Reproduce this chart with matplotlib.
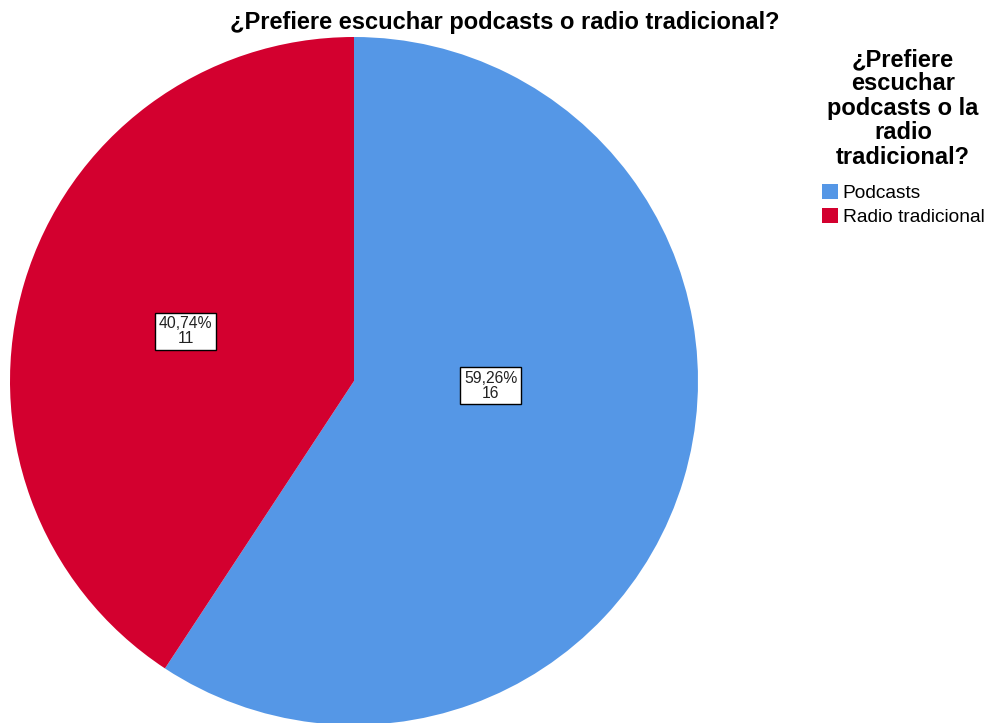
import matplotlib.pyplot as plt

plt.rcParams['font.family'] = ['Liberation Sans', 'DejaVu Sans']

# data
categories = ['Podcasts', 'Radio tradicional']
counts = [16, 11]
colors = ['#5597E6', '#D3002F']
# label anchor spots (fraction of the radius, in pie units)
label_pos = [(0.397, -0.014), (-0.49, 0.145)]

total = sum(counts)

fig = plt.figure(figsize=(9.92, 7.23), dpi=100)
R = 344
cx, cy = 354, 381
ax = fig.add_axes([(cx - R) / 992, (723 - cy - R) / 723, 2 * R / 992, 2 * R / 723])

wedges, _ = ax.pie(counts, colors=colors, startangle=90, counterclock=False,
                   radius=1.0, wedgeprops=dict(linewidth=0))
ax.set_xlim(-1, 1)
ax.set_ylim(-1, 1)
ax.set_aspect('equal')
ax.axis('off')

for c, (x, y) in zip(counts, label_pos):
    pct = f'{100 * c / total:.2f}'.replace('.', ',') + '%'
    ax.text(x, y, f'{pct}\n{c}', ha='center', va='center', fontsize=11.3,
            linespacing=1.0, color='#222222',
            bbox=dict(boxstyle='square,pad=0.22', facecolor='white',
                      edgecolor='black', linewidth=1))

fig.text(505 / 992, 1 - 22 / 723, '¿Prefiere escuchar podcasts o radio tradicional?',
         ha='center', va='center', fontsize=17, fontweight='bold')

leg = fig.legend(wedges, categories, loc='upper center',
                 bbox_to_anchor=(903 / 992, 1 - 48 / 723), frameon=False,
                 title='¿Prefiere\nescuchar\npodcasts o la\nradio\ntradicional?',
                 title_fontproperties={'weight': 'bold', 'size': 17},
                 alignment='center',
                 fontsize=13.8, handlelength=0.85, handleheight=0.85,
                 handletextpad=0.25, labelspacing=0.28, borderaxespad=0,
                 borderpad=0)
leg.get_title().set_linespacing(1.08)
leg.get_title().set_multialignment('center')
leg._legend_box.sep = 11

fig.savefig('out.png', dpi=100)
